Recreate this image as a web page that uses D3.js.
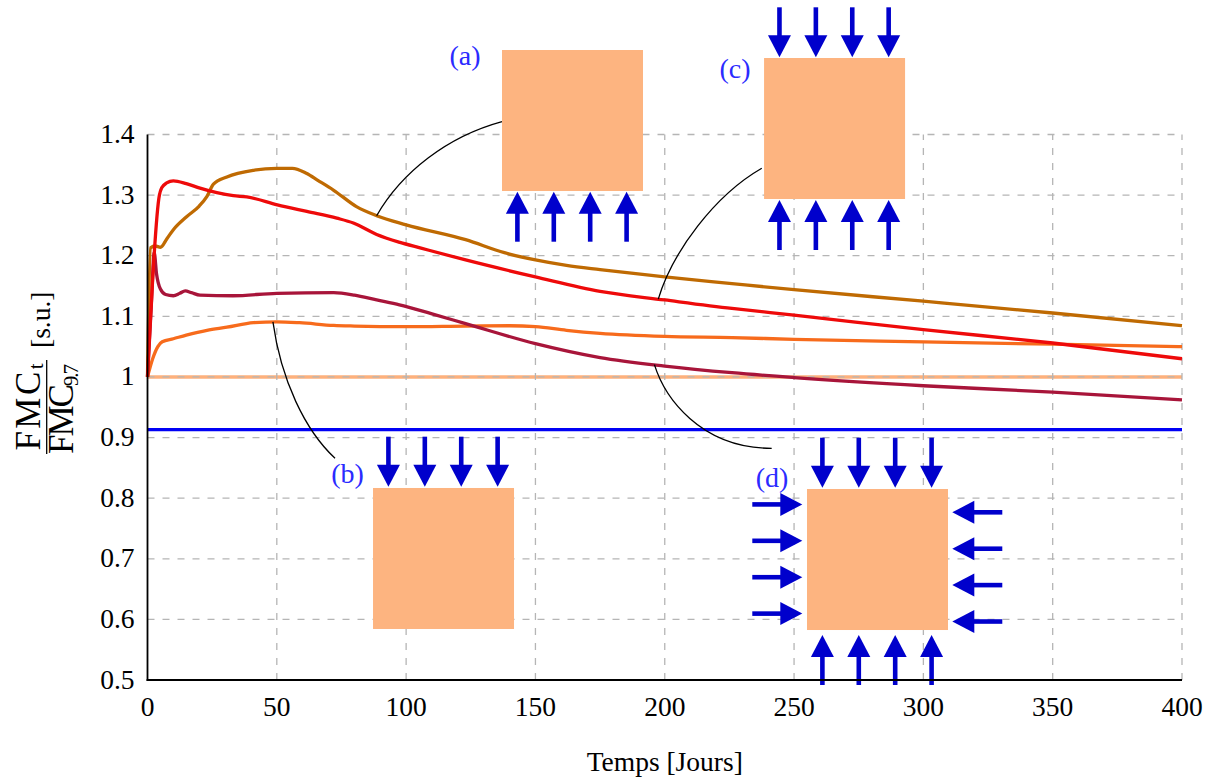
<!DOCTYPE html>
<html>
<head>
<meta charset="utf-8">
<script src="https://cdn.jsdelivr.net/npm/d3@7"></script>
<style>
  html, body { margin: 0; padding: 0; background: #fff; }
  svg { display: block; }
</style>
</head>
<body>
<svg id="chart" width="1222" height="780" font-family="'Liberation Serif', 'DejaVu Serif', 'Noto Serif', 'Times New Roman', Times, serif"></svg>
<script>
// ---------------- data ----------------
const xTicks = [0, 50, 100, 150, 200, 250, 300, 350, 400];
const xTickLabels = ["0", "50", "100", "150", "200", "250", "300", "350", "400"];
const yTicks = [0.5, 0.6, 0.7, 0.8, 0.9, 1.0, 1.1, 1.2, 1.3, 1.4];
const yTickLabels = ["0.5", "0.6", "0.7", "0.8", "0.9", "1", "1.1", "1.2", "1.3", "1.4"];

// (a) brown
const tA = [0, 1.2, 3, 5, 7.5, 10, 15, 20, 23, 25.5, 30.7, 41, 50, 56, 61.4, 66, 72, 80.8, 88.6, 100, 123, 138, 150, 162, 175, 200, 226, 250, 300, 350, 400];
const vA = [1.0, 1.213, 1.216, 1.214, 1.228, 1.243, 1.264, 1.282, 1.298, 1.318, 1.330, 1.341, 1.344, 1.344, 1.336, 1.324, 1.308, 1.281, 1.266, 1.251, 1.2265, 1.205, 1.193, 1.184, 1.177, 1.165, 1.154, 1.144, 1.125, 1.1055, 1.0845];
// (b) orange
const tB = [0, 2, 4, 5.7, 10, 15, 23, 30.7, 41, 50, 58.8, 72, 80, 100, 123, 140, 150, 162, 175, 200, 226, 250, 300, 350, 400];
const vB = [1.0, 1.03, 1.05, 1.058, 1.063, 1.069, 1.077, 1.082, 1.0895, 1.091, 1.0895, 1.085, 1.084, 1.083, 1.084, 1.0845, 1.083, 1.077, 1.072, 1.067, 1.065, 1.062, 1.058, 1.054, 1.050];
// (c) red
const tC = [0, 4.6, 5.5, 7.4, 10, 15, 20.3, 26.8, 33.2, 38.4, 50.2, 61.6, 73.2, 79.6, 88.6, 97.6, 105.4, 123, 150, 175, 200, 226, 250, 300, 350, 400];
const vC = [1.0, 1.300, 1.312, 1.320, 1.3236, 1.319, 1.3115, 1.304, 1.299, 1.297, 1.284, 1.273, 1.262, 1.254, 1.235, 1.222, 1.213, 1.193, 1.165, 1.141, 1.127, 1.113, 1.102, 1.078, 1.056, 1.030];
// (d) dark red
const tD = [0, 1.5, 2.6, 3.5, 5, 7, 10, 12.5, 14.6, 17, 20.3, 33, 50, 72, 80, 88.6, 97.4, 110, 123, 150, 175, 200, 226, 250, 300, 350, 400];
const vD = [1.0, 1.12, 1.205, 1.17, 1.145, 1.136, 1.134, 1.138, 1.142, 1.139, 1.135, 1.134, 1.138, 1.139, 1.135, 1.127, 1.119, 1.104, 1.088, 1.055, 1.032, 1.018, 1.007, 0.999, 0.9855, 0.975, 0.962];

// reference horizontal levels
const refLevel = 1.0;
const blueLevel = 0.913;

// annotation boxes: top-left corner in data coordinates
const boxNames = ["(a)", "(b)", "(c)", "(d)"];
const boxT = [137.07, 87.2, 238.4, 255.0];
const boxV = [1.5394, 0.8168, 1.5262, 0.8151];
// connector: which series and at which time it starts
const connSeries = ["a", "b", "c", "d"];
const connT = [88.6, 48.5, 197.5, 196];

// ---------------- layout / styles ----------------
const SERIF = "'Liberation Serif', 'DejaVu Serif', 'Noto Serif', 'Times New Roman', Times, serif";
const plotL = 147.5, plotR = 1182, plotT = 134.5, plotB = 680;
const svg = d3.select("#chart");
const x = d3.scaleLinear().domain([0, 400]).range([plotL, plotR]);
const y = d3.scaleLinear().domain([0.5, 1.4]).range([plotB, plotT]);

const colors = { a: "#bf6a02", b: "#f76b1c", c: "#ee0a0a", d: "#a8153a" };
const series = {
  a: tA.map((t, i) => [t, vA[i]]),
  b: tB.map((t, i) => [t, vB[i]]),
  c: tC.map((t, i) => [t, vC[i]]),
  d: tD.map((t, i) => [t, vD[i]])
};
const line = d3.line().x(d => x(d[0])).y(d => y(d[1])).curve(d3.curveMonotoneX);

// reference 1.0 line (drawn under the grid)
svg.append("line")
  .attr("x1", x(0)).attr("x2", x(400))
  .attr("y1", y(refLevel)).attr("y2", y(refLevel))
  .attr("stroke", "#fdb07c").attr("stroke-width", 3.4);

// grid
const grid = svg.append("g").attr("stroke", "#b5b5b5").attr("stroke-width", 1.3).attr("stroke-dasharray", "7,8");
xTicks.filter(t => t > 0).forEach(t => {
  grid.append("line").attr("x1", x(t)).attr("x2", x(t)).attr("y1", y(0.5)).attr("y2", y(1.4));
});
yTicks.filter(v => v > 0.5).forEach(v => {
  grid.append("line").attr("x1", x(0)).attr("x2", x(400)).attr("y1", y(v)).attr("y2", y(v));
});

// blue line
svg.append("line")
  .attr("x1", x(0)).attr("x2", x(400))
  .attr("y1", y(blueLevel)).attr("y2", y(blueLevel))
  .attr("stroke", "#0000f5").attr("stroke-width", 3.2);

// curves
["b", "d", "a", "c"].forEach(k => {
  svg.append("path").datum(series[k])
    .attr("d", line).attr("fill", "none")
    .attr("stroke", colors[k]).attr("stroke-width", 3.3)
    .attr("stroke-linejoin", "round");
});

// helper: value of a series at t (linear)
function valAt(k, t) {
  const s = series[k];
  for (let i = 1; i < s.length; i++) {
    if (t <= s[i][0]) {
      const f = (t - s[i - 1][0]) / (s[i][0] - s[i - 1][0]);
      return s[i - 1][1] + f * (s[i][1] - s[i - 1][1]);
    }
  }
  return s[s.length - 1][1];
}

// boxes geometry (pixels derived from scales)
const BOX = 141, SP = 36.4, OFF = 15.4, ALEN = 50, HL = 22, HW = 23, SW = 4.6;
const boxes = boxNames.map((n, i) => ({ name: n, x0: x(boxT[i]), y0: y(boxV[i]) }));

// connectors (cubic curves from the series to box/label)
const connEnd = [[0, 71.7], [-38, -29.7], [-2.3, 110.3], [-35.3, -40.7]];
const connC1 = [[25, -43.3], [8, 58], [14, -47], [10, 32]];
const connC2 = [[-55, 15], [-30, -28], [-47, 27], [-72, 0]];
boxes.forEach((b, i) => {
  const k = connSeries[i];
  const p0 = [x(connT[i]), y(valAt(k, connT[i]))];
  const p3 = [b.x0 + connEnd[i][0], b.y0 + connEnd[i][1]];
  const c1 = [p0[0] + connC1[i][0], p0[1] + connC1[i][1]];
  const c2 = [p3[0] + connC2[i][0], p3[1] + connC2[i][1]];
  const p = d3.path();
  p.moveTo(p0[0], p0[1]);
  p.bezierCurveTo(c1[0], c1[1], c2[0], c2[1], p3[0], p3[1]);
  svg.append("path").attr("d", p.toString()).attr("fill", "none")
    .attr("stroke", "#000").attr("stroke-width", 1.3);
});

// boxes
boxes.forEach(b => {
  svg.append("rect").attr("x", b.x0).attr("y", b.y0).attr("width", BOX).attr("height", BOX)
    .attr("fill", "#fdb480");
});

// arrows
function arrow(tipX, tipY, dx, dy) { // dx,dy unit direction of travel (towards tip)
  const tailX = tipX - dx * ALEN, tailY = tipY - dy * ALEN;
  const bx = tipX - dx * HL, by = tipY - dy * HL;
  const px = -dy, py = dx;
  const g = svg.append("g").attr("fill", "#0000cc").attr("stroke", "none");
  g.append("line").attr("x1", tailX).attr("y1", tailY).attr("x2", bx + dx * 2).attr("y2", by + dy * 2)
    .attr("stroke", "#0000cc").attr("stroke-width", SW);
  g.append("path").attr("d",
    `M${tipX},${tipY}L${bx + px * HW / 2},${by + py * HW / 2}L${bx - px * HW / 2},${by - py * HW / 2}Z`);
}
const arrowSides = [
  { bottom: 0.7 },
  { top: 1.3 },
  { top: 0.7, bottom: 1 },
  { top: 1.3, bottom: 5, left: 4.7, right: 4.3 }
];
boxes.forEach((b, i) => {
  const s = arrowSides[i];
  for (let j = 0; j < 4; j++) {
    const ax = b.x0 + OFF + j * SP;
    if (s.top !== undefined) arrow(ax, b.y0 - s.top, 0, 1);
    if (s.bottom !== undefined) arrow(ax, b.y0 + BOX + s.bottom, 0, -1);
    if (s.left !== undefined) arrow(b.x0 - s.left, b.y0 + OFF + j * SP, 1, 0);
    if (s.right !== undefined) arrow(b.x0 + BOX + s.right, b.y0 + 23.3 + j * SP, -1, 0);
  }
});

function txt(sel) { return sel.append("text").attr("font-family", SERIF); }

// box labels
const labelOff = [[-37, 15], [-25.5, -5], [-29, 20], [-35, -2]];
boxes.forEach((b, i) => {
  txt(svg).attr("x", b.x0 + labelOff[i][0]).attr("y", b.y0 + labelOff[i][1])
    .attr("text-anchor", "middle").attr("font-size", 28).attr("fill", "#2b2bff")
    .text(b.name);
});

// axes lines (left & bottom)
svg.append("line").attr("x1", x(0)).attr("x2", x(0)).attr("y1", y(1.4)).attr("y2", y(0.5) + 1)
  .attr("stroke", "#000").attr("stroke-width", 1.8);
svg.append("line").attr("x1", x(0) - 0.9).attr("x2", x(400)).attr("y1", y(0.5)).attr("y2", y(0.5))
  .attr("stroke", "#000").attr("stroke-width", 1.8);

// tick labels
xTicks.forEach((t, i) => {
  txt(svg).attr("x", x(t)).attr("y", plotB + 36).attr("text-anchor", "middle")
    .attr("font-size", 27.5).attr("fill", "#000").text(xTickLabels[i]);
});
yTicks.forEach((v, i) => {
  txt(svg).attr("x", plotL - 13).attr("y", y(v) + 8.5).attr("text-anchor", "end")
    .attr("font-size", 27.5).attr("fill", "#000").text(yTickLabels[i]);
});

// x axis title
txt(svg).attr("x", (plotL + plotR) / 2).attr("y", 771).attr("text-anchor", "middle")
  .attr("font-size", 27.5).attr("fill", "#000").text("Temps [Jours]");

// y axis title (rotated fraction)
const yl = svg.append("g").attr("transform", "rotate(-90)");
const num = txt(yl).attr("x", -407).attr("y", 40).attr("text-anchor", "middle")
  .attr("font-size", 35).attr("fill", "#000")
  .attr("textLength", 87).attr("lengthAdjust", "spacing");
num.append("tspan").text("FMC");
num.append("tspan").attr("font-size", 21).attr("dy", 3).text("t");
const den = txt(yl).attr("x", -409).attr("y", 73.3).attr("text-anchor", "middle")
  .attr("font-size", 35).attr("fill", "#000")
  .attr("textLength", 90).attr("lengthAdjust", "spacing");
den.append("tspan").text("FMC");
den.append("tspan").attr("font-size", 21).attr("dy", 5).text("9.7");
yl.append("line").attr("x1", -454).attr("x2", -360).attr("y1", 46.7).attr("y2", 46.7)
  .attr("stroke", "#000").attr("stroke-width", 1.3);
txt(yl).attr("x", -348).attr("y", 50).attr("text-anchor", "start")
  .attr("font-size", 27.5).attr("fill", "#000").text("[s.u.]");
</script>
</body>
</html>
